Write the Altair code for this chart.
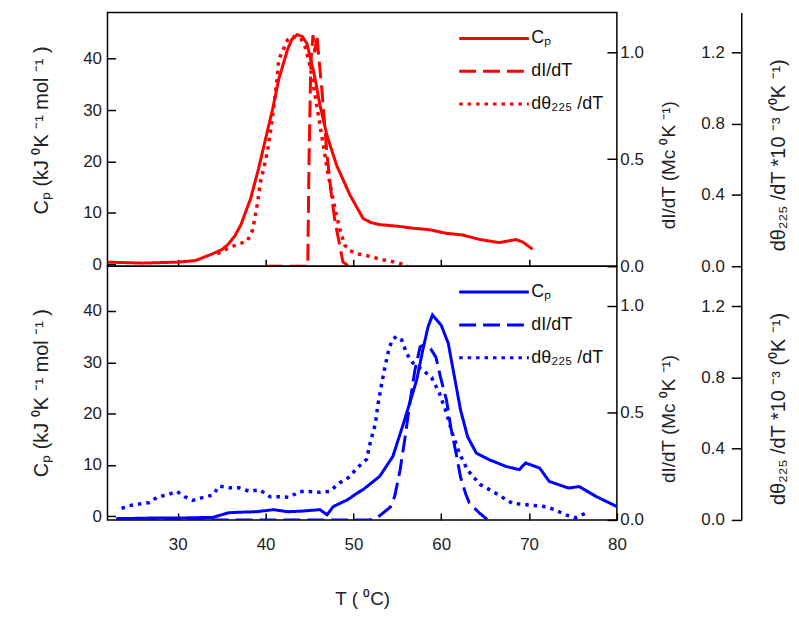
import altair as alt
import pandas as pd

L_CP = "Cₚ"
L_DI = "dI/dT"
L_DTH = "dθ₂₂₅ /dT"

# ---------------- top panel (red) ----------------
top_cp_T = [22, 24, 26, 28, 30, 32, 33.8, 35, 35.7, 36.5, 37.2, 38.3, 39.2, 40, 40.8, 41.5, 42.5, 43, 43.6,
            44.2, 44.7, 45.5, 46.2, 47, 48.1, 49.6, 51.1, 52, 53, 55, 56.8, 58.7, 60.6, 62.4, 64.4, 66.6,
            68.5, 69.3, 70.4]
top_cp = [0.4, 0.3, 0.2, 0.3, 0.4, 0.7, 1.9, 2.8, 3.8, 5.5, 7.7, 12.8, 18.6, 24.4, 30.2, 36, 41.8, 43.8, 44.7,
          44.3, 43, 37.3, 30.9, 25, 19.2, 13.5, 8.9, 8.1, 7.7, 7.4, 7.0, 6.7, 6.0, 5.7, 4.8, 4.2,
          4.8, 4.3, 2.9]

top_di_T = [40, 42, 44, 44.8, 44.95, 45.15, 45.4, 45.6, 45.85, 46.05, 46.4, 47.0, 47.5, 47.9, 48.5, 48.8, 49.5]
top_di = [0, 0, 0, 0.0, 0.5, 0.95, 1.08, 1.0, 1.08, 0.98, 0.83, 0.52, 0.33, 0.21, 0.085, 0.02, 0.0]

top_dth_T = [34.5, 35.7, 36.9, 37.9, 38.5, 38.7, 39.1, 39.4, 39.8, 40.2, 40.6, 40.9, 41.3, 41.5, 42.5, 43.0,
             44.0, 44.5, 44.9, 45.1, 45.6, 46.0, 46.5, 47.0, 47.5, 48.0, 48.5, 49.0, 49.5, 50.4, 51.5, 53,
             55, 56.2]
top_dth = [0.07, 0.10, 0.125, 0.14, 0.20, 0.25, 0.36, 0.47, 0.55, 0.64, 0.77, 0.88, 1.05, 1.16, 1.27, 1.29,
           1.28, 1.23, 1.16, 1.11, 0.97, 0.85, 0.70, 0.55, 0.42, 0.30, 0.20, 0.12, 0.09, 0.07, 0.06, 0.04,
           0.02, 0.0]

# ---------------- bottom panel (blue) ----------------
bot_cp_T = [23, 25, 28, 31, 34, 35.8, 37, 39, 40.9, 42.5, 44, 46.2, 47, 47.7, 49.3, 50.5, 51.1, 53, 54.5,
            55.7, 56.4, 57.2, 57.9, 58.5, 59.0, 60.0, 60.8, 61.5, 62.2, 63.0, 64.0, 65.5, 67.4, 68.9, 69.6,
            71.2, 72.3, 74.5, 75.7, 77.6, 80]
bot_cp = [-0.4, -0.4, -0.3, -0.3, -0.2, 0.7, 0.8, 0.9, 1.3, 0.9, 1.0, 1.3, 0.3, 1.9, 3.2, 4.6, 5.2, 7.8, 11.7,
          18.1, 22, 26.5, 32.4, 36.9, 39.2, 37.2, 33.7, 27.2, 20.7, 15.5, 12.3, 11, 9.7, 9.1, 10.4,
          9.4, 6.8, 5.5, 5.8, 3.9, 1.9]

bot_di_T = [23, 30, 40, 48, 51.9, 53, 54.2, 54.7, 55.3, 55.9, 56.4, 57.0, 57.6, 58.1, 58.8, 59.4, 59.9, 60.6,
            61.1, 61.7, 62.2, 62.8, 63.2, 64.4, 65.3]
bot_di = [0, 0, 0, 0, 0, 0.02, 0.06, 0.11, 0.23, 0.39, 0.54, 0.70, 0.81, 0.82, 0.80, 0.76, 0.67, 0.56,
          0.43, 0.31, 0.2, 0.12, 0.08, 0.03, 0]

bot_dth_T = [23.6, 24.5, 25.7, 26.8, 27.7, 28.8, 29.9, 30.8, 31.7, 32.8, 34.0, 34.7, 35.9, 37.0, 38.2, 39.3,
             40.5, 41.6, 42.7, 43.9, 45.0, 46.1, 47.3, 48.5, 49.5, 50.4, 51.5, 51.9, 52.5, 52.8, 53.2, 53.6,
             54.0, 54.4, 54.9, 55.5, 56.1, 56.8, 57.9, 58.9, 59.8, 60.6, 61.3, 62.1, 63.0, 64.4, 66.2, 68.1,
             70.0, 71.9, 73.0, 74.2, 75.3, 76.4]
bot_dth = [0.065, 0.08, 0.09, 0.097, 0.13, 0.14, 0.16, 0.13, 0.11, 0.125, 0.14, 0.19, 0.18, 0.18, 0.16, 0.17,
           0.13, 0.13, 0.127, 0.16, 0.16, 0.155, 0.16, 0.21, 0.24, 0.29, 0.34, 0.43, 0.54, 0.65, 0.76, 0.86,
           0.95, 1.01, 1.03, 1.01, 0.93, 0.88, 0.84, 0.80, 0.71, 0.60, 0.48, 0.37, 0.28, 0.20, 0.15, 0.093,
           0.084, 0.074, 0.056, 0.028, 0.012, 0.037]

FONT = "Liberation Sans"
W, H = 512, 255


def frame(T, v, label):
    return pd.DataFrame({"T": T, "v": v, "series": label})


def panel(color, cp, di, dth, cp_domain, bottom, cp_title_y):
    dash = alt.Scale(domain=[L_CP, L_DI, L_DTH], range=[[1, 0], [17, 7], [3.5, 5]])
    legend = alt.Legend(orient="none", legendX=352, legendY=16, title=None, symbolType="stroke",
                        symbolSize=4900, symbolStrokeWidth=3, symbolStrokeColor=color, clipHeight=20,
                        rowPadding=13, labelFontSize=18, labelFont=FONT, labelOffset=1,
                        labelColor="#111", padding=0)
    if bottom:
        xaxis = alt.Axis(orient="top", offset=-H, domain=False, tickSize=7, values=[30, 40, 50, 60, 70, 80],
                         labelPadding=-24, labelBaseline="top", labelFlush=False,
                         title="T ( ⁰C)", titleY=79, titleBaseline="middle", titleFontSize=19)
    else:
        xaxis = alt.Axis(orient="top", offset=-H, domain=False, tickSize=7, values=[30, 40, 50, 60, 70],
                         labels=False, title=None)
    x = alt.X("T:Q", scale=alt.Scale(domain=[22, 80], nice=False, zero=False), axis=xaxis)
    sd = alt.StrokeDash("series:N", scale=dash, legend=legend)

    cp_axis = alt.Axis(orient="right", offset=-W, domain=False, tickSize=8, values=[0, 10, 20, 30, 40],
                       labelAlign="right", labelPadding=-14, labelFlush=False,
                       title="Cₚ  (kJ  ⁰K ⁻¹  mol ⁻¹ )", titleAngle=270, titleX=-66, titleY=cp_title_y,
                       titleBaseline="middle", titleFontSize=20)
    di_axis = alt.Axis(orient="left", offset=-W, domain=False, tickSize=10, values=[0, 0.5, 1.0],
                       format=".1f", labelAlign="left", labelPadding=-13, labelFlush=False,
                       title="dI/dT (Mc ⁰K ⁻¹)", titleAngle=270, titleX=52, titleY=153,
                       titleBaseline="middle", titleFontSize=19)
    dth_axis = alt.Axis(orient="left", offset=-(W + 125), domain=True, domainWidth=1.5, tickSize=10,
                        values=[0, 0.4, 0.8, 1.2], format=".1f", labelPadding=7, labelFlush=False,
                        title="dθ₂₂₅ /dT  *10 ⁻³  (⁰K ⁻¹)", titleAngle=270, titleX=37, titleY=143,
                        titleBaseline="middle", titleFontSize=20)

    l1 = alt.Chart(cp).mark_line(color=color, strokeWidth=3, clip=True).encode(
        x=x, y=alt.Y("v:Q", scale=alt.Scale(domain=cp_domain, nice=False, zero=False), axis=cp_axis),
        strokeDash=sd)
    l2 = alt.Chart(di).mark_line(color=color, strokeWidth=3, clip=True).encode(
        x=x, y=alt.Y("v:Q", scale=alt.Scale(domain=[0, 1.186], nice=False, zero=False), axis=di_axis),
        strokeDash=sd)
    l3 = alt.Chart(dth).mark_line(color=color, strokeWidth=3.5, clip=True).encode(
        x=x, y=alt.Y("v:Q", scale=alt.Scale(domain=[0, 1.424], nice=False, zero=False), axis=dth_axis),
        strokeDash=sd)
    return alt.layer(l1, l2, l3).resolve_scale(y="independent").properties(width=W, height=H)


top = panel("#ff0000", frame(top_cp_T, top_cp, L_CP), frame(top_di_T, top_di, L_DI),
            frame(top_dth_T, top_dth, L_DTH), [-0.4, 49], False, 118)
bot = panel("#0000ff", frame(bot_cp_T, bot_cp, L_CP), frame(bot_di_T, bot_di, L_DI),
            frame(bot_dth_T, bot_dth, L_DTH), [-0.7, 48.7], True, 127)

chart = alt.vconcat(top, bot, spacing=0).resolve_scale(
    strokeDash="independent", x="independent", y="independent"
).resolve_legend(strokeDash="independent").properties(
    padding={"left": 23, "top": 2, "right": 2, "bottom": 2}, background="white", bounds="flush"
).configure_view(stroke="black", strokeWidth=1.5).configure_axis(
    labelFont=FONT, titleFont=FONT, labelFontSize=17, titleFontSize=18, titleFontWeight="normal",
    labelColor="#222", titleColor="#222", tickColor="black", tickWidth=1.5, grid=False,
    domainColor="black"
)

chart.save("out.html", embed_options={"renderer": "svg", "actions": False})
